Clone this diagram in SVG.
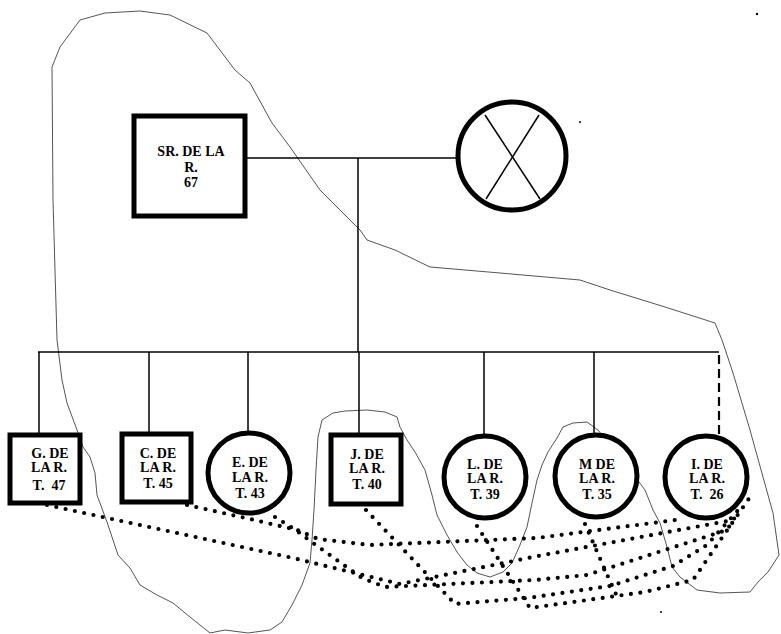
<svg xmlns="http://www.w3.org/2000/svg" width="781" height="634" viewBox="0 0 781 634">
<style>
.bg{fill:#fff}
.outline{fill:none;stroke:#555;stroke-width:1;stroke-linejoin:round}
.node{fill:#fff;stroke:#000;stroke-width:5}
.line{fill:none;stroke:#000;stroke-width:1.5}
.dash{fill:none;stroke:#000;stroke-width:2.2;stroke-dasharray:9 5}
.dots{fill:none;stroke:#000;stroke-width:4.2;stroke-linecap:round;stroke-linejoin:round;stroke-dasharray:0 9.5}
.t{font-family:"Liberation Serif","Times New Roman",serif;font-weight:bold;font-size:14px;text-anchor:middle;fill:#000}
</style>
<rect class="bg" x="0" y="0" width="781" height="634"/>
<g id="outline">
<path class="outline" d="M80,20 L105,13 L140,11 L170,15 L207,33 L235,70 L250,83 L272,123 L290,147 L320,190 L360,230 L367,240 L395,250 L430,267 L500,273 L580,280 L610,290 L665,307 L715,323 L722,340 L733,373 L750,430 L763,477 L773,513 L779,555 L768,572 L758,582 L750,592 L720,593 L697,590 L680,577 L672,567 L667,547 L660,523 L653,510 L645,490 L630,470 L598,430 L587,422 L573,423 L563,427 L557,438 L548,452 L542,465 L537,480 L532,503 L527,527 L520,545 L512,563 L503,572 L490,577 L477,573 L467,565 L457,552 L447,535 L437,515 L432,495 L425,470 L415,452 L407,440 L400,427 L397,417 L385,412 L367,410 L345,411 L333,413 L322,420 L318,437 L316,470 L314,510 L312,540 L310,563 L302,585 L292,605 L282,622 L270,630 L248,633 L225,630 L210,633 L190,617 L173,603 L157,595 L140,585 L130,568 L118,555 L107,522 L97,495 L95,473 L90,457 L83,447 L77,430 L67,403 L62,380 L57,340 L53,200 L52,67 L60,47 Z"/>
<circle cx="757" cy="14" r="1.2" fill="#000"/>
<circle cx="580" cy="122" r="1" fill="#000"/>
<circle cx="661" cy="612" r="1" fill="#000"/>
</g>
<g id="connectors">
<line class="line" x1="247" y1="158" x2="458" y2="158"/>
<line class="line" x1="358" y1="158" x2="358" y2="352"/>
<line class="line" x1="38" y1="352" x2="719" y2="352"/>
<line class="line" x1="39" y1="352" x2="39" y2="434"/>
<line class="line" x1="149" y1="352" x2="149" y2="433"/>
<line class="line" x1="248" y1="352" x2="248" y2="432"/>
<line class="line" x1="359" y1="352" x2="359" y2="434"/>
<line class="line" x1="484" y1="352" x2="484" y2="434"/>
<line class="line" x1="594" y1="352" x2="594" y2="433"/>
<line class="dash" x1="719" y1="355" x2="719" y2="434"/>
<polyline class="dots" points="47,505 293,558 400,584 538,556 733,520"/>
<polyline class="dots" points="187,505 250,519 297,530 318,539 370,545 537,538 683,519"/>
<polyline class="dots" points="275,517 297,531 313,543 362,578 385,587 535,580 587,575 727,530 737,514"/>
<polyline class="dots" points="366,510 455,604 528,598 610,586 673,566 707,545 740,508"/>
<polyline class="dots" points="477,526 530,608 645,592 693,580 750,497"/>
<polyline class="dots" points="585,524 605,570 619,601"/>
</g>
<g id="father">
<rect class="node" x="134" y="116" width="111" height="100"/>
<text class="t" x="191" y="156">SR. DE LA</text>
<text class="t" x="191" y="172">R.</text>
<text class="t" x="191" y="187">67</text>
</g>
<g id="mother">
<circle class="node" cx="512" cy="156" r="54"/>
<line class="line" x1="485" y1="115" x2="540" y2="199"/>
<line class="line" x1="539" y1="115" x2="486" y2="199"/>
</g>
<g id="g">
<rect class="node" x="10" y="435" width="70" height="68"/>
<text class="t" x="50" y="458">G. DE</text>
<text class="t" x="49" y="472">LA R.</text>
<text class="t" x="49" y="490" xml:space="preserve">T.  47</text>
</g>
<g id="c">
<rect class="node" x="122" y="434" width="69" height="68"/>
<text class="t" x="158" y="458">C. DE</text>
<text class="t" x="158" y="472">LA R.</text>
<text class="t" x="158" y="488">T. 45</text>
</g>
<g id="e">
<ellipse class="node" cx="249" cy="473" rx="41" ry="40"/>
<text class="t" x="250" y="467">E. DE</text>
<text class="t" x="250" y="482">LA R.</text>
<text class="t" x="250" y="498">T. 43</text>
</g>
<g id="j">
<rect class="node" x="331" y="435" width="70" height="69"/>
<text class="t" x="367" y="459">J. DE</text>
<text class="t" x="367" y="473">LA R.</text>
<text class="t" x="367" y="489">T. 40</text>
</g>
<g id="l">
<circle class="node" cx="485" cy="477" r="41"/>
<text class="t" x="485" y="469">L. DE</text>
<text class="t" x="485" y="483">LA R.</text>
<text class="t" x="485" y="499">T. 39</text>
</g>
<g id="m">
<circle class="node" cx="596" cy="476" r="41"/>
<text class="t" x="597" y="469">M DE</text>
<text class="t" x="597" y="483">LA R.</text>
<text class="t" x="597" y="499">T. 35</text>
</g>
<g id="i">
<circle class="node" cx="706" cy="477" r="41"/>
<text class="t" x="707" y="469">I. DE</text>
<text class="t" x="707" y="483">LA R.</text>
<text class="t" x="707" y="499" xml:space="preserve">T.  26</text>
</g>
</svg>
